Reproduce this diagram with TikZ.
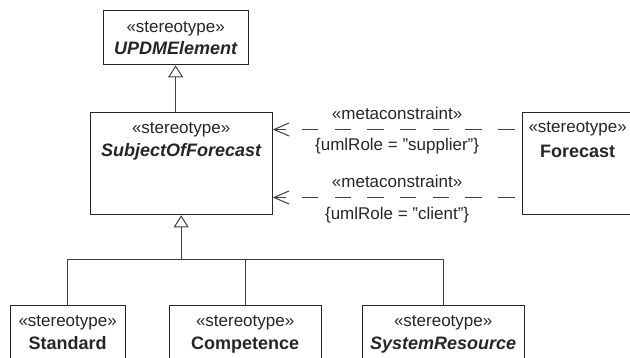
\documentclass[tikz,border=0pt]{standalone}
\usepackage{fontspec}
\setmainfont{Liberation Sans}
\usetikzlibrary{arrows.meta}
\begin{document}
\begin{tikzpicture}[x=1pt,y=-1pt,
  box/.style={draw=black!85, line width=1.3pt, fill=white, inner sep=0pt, anchor=north west},
  st/.style={font=\fontsize{17}{20}\selectfont, anchor=base, inner sep=0pt, text=black!85},
  nm/.style={font=\fontsize{18}{21}\selectfont\bfseries, anchor=base, inner sep=0pt, text=black!85},
  nmi/.style={font=\fontsize{18}{21}\selectfont\bfseries\itshape, anchor=base, inner sep=0pt, text=black!85},
  conn/.style={draw=black!75, line width=1pt},
  gen/.style={conn, -{Triangle[open, length=12pt, width=15pt, fill=white]}},
  dep/.style={conn, dash pattern=on 16.5pt off 16.2pt, dash phase=25.7pt, -{Straight Barb[length=15pt, width=13pt]}},
  lbl/.style={font=\fontsize{17}{20}\selectfont, anchor=base, inner sep=0pt, text=black!85}
]
\useasboundingbox (0,0) rectangle (630,358);
\clip (0,0) rectangle (630,358);

% boxes
\node[box, minimum width=145pt, minimum height=54pt] (upd) at (102.5,10) {};
\node[st] (updst) at ([yshift=-23pt]upd.north) {«stereotype»};
\node[nmi] (updnm) at ([yshift=-45pt]upd.north) {UPDMElement};

\node[box, minimum width=182pt, minimum height=102pt] (subj) at (89.5,112) {};
\node[st] (subjst) at ([yshift=-21.5pt]subj.north) {«stereotype»};
\node[nmi] (subjnm) at ([yshift=-44.5pt]subj.north) {SubjectOfForecast};

\node[box, minimum width=111pt, minimum height=102pt] (fc) at (521.5,112) {};
\node[st] (fcst) at ([yshift=-20.5pt]fc.north) {«stereotype»};
\node[nm] (fcnm) at ([yshift=-45.5pt]fc.north) {Forecast};

\node[box, minimum width=115pt, minimum height=60pt] (std) at (9.5,305) {};
\node[st] (stdst) at ([yshift=-21.7pt]std.north) {«stereotype»};
\node[nm] (stdnm) at ([yshift=-45pt]std.north) {Standard};

\node[box, minimum width=152pt, minimum height=60pt] (comp) at (168.5,305) {};
\node[st] (compst) at ([yshift=-21.7pt]comp.north) {«stereotype»};
\node[nm] (compnm) at ([yshift=-45pt]comp.north) {Competence};

\node[box, minimum width=162pt, minimum height=60pt] (sys) at (361.5,305) {};
\node[st] (sysst) at ([yshift=-21.7pt]sys.north) {«stereotype»};
\node[nmi] (sysnm) at ([yshift=-45pt]sys.north) {SystemResource};

% generalizations
\draw[gen] (subj.north -| upd.south) -- (upd.south);
\coordinate (buslevel) at (0,259.5);
\draw[conn] (std.north) |- (sys.north |- buslevel) -- (sys.north);
\draw[conn] (comp.north) -- (comp.north |- buslevel);
\draw[gen] (subj.south |- buslevel) -- (subj.south);

% dependencies
\draw[dep] ([yshift=-17.5pt]fc.north west) --
  node[lbl, yshift=10pt] {«metaconstraint»}
  node[lbl, yshift=-21pt] {\{umlRole = "supplier"\}}
  ([yshift=-17.5pt]subj.north east);
\draw[dep] ([yshift=-85.5pt]fc.north west) --
  node[lbl, yshift=10pt] {«metaconstraint»}
  node[lbl, yshift=-22pt] {\{umlRole = "client"\}}
  ([yshift=-85.5pt]subj.north east);
\end{tikzpicture}
\end{document}
